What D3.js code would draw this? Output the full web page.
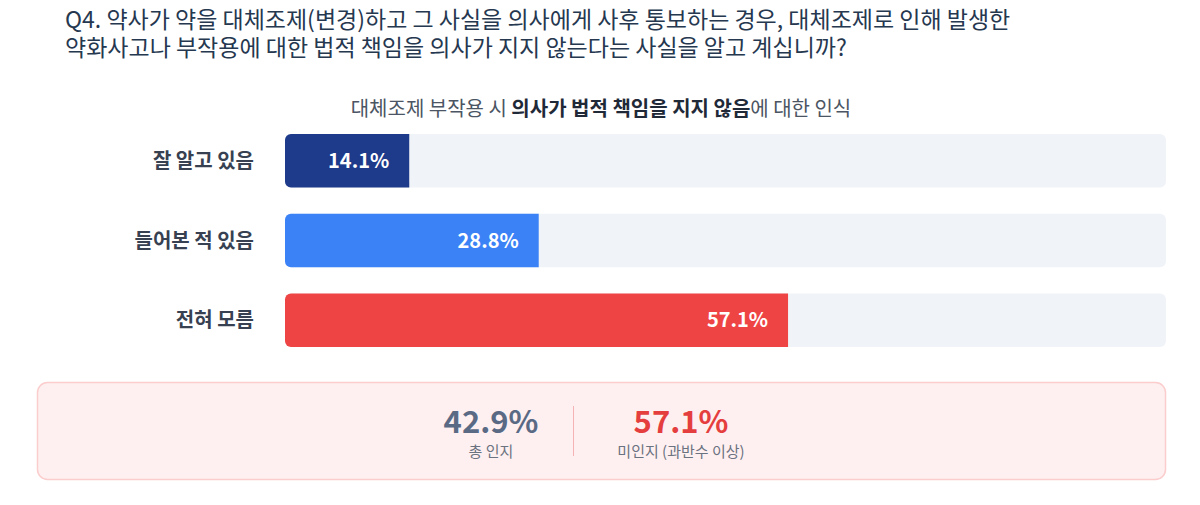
<!DOCTYPE html>
<html>
  <head>
    <meta charset="utf-8">
    <script src="https://d3js.org/d3.v7.min.js"></script>
    <style>
      body { margin: 0; background: #fff; font-family: "Noto Sans CJK KR", "Noto Sans", sans-serif; }
    </style>
  </head>
  <body>
    <script type="text/javascript">
      // 응답 데이터
      var categories = ["잘 알고 있음", "들어본 적 있음", "전혀 모름"];
      var values = [14.1, 28.8, 57.1];
      var colors = ["#1e3a8a", "#3b82f6", "#ef4444"];
      var titleLines = [
        "Q4. 약사가 약을 대체조제(변경)하고 그 사실을 의사에게 사후 통보하는 경우, 대체조제로 인해 발생한",
        "약화사고나 부작용에 대한 법적 책임을 의사가 지지 않는다는 사실을 알고 계십니까?"
      ];
      var summaryLabels = ["총 인지", "미인지 (과반수 이상)"];

      var W = 1200, H = 505;
      var svg = d3.select("body").append("svg").attr("width", W).attr("height", H);

      // 제목
      svg.selectAll("text.title")
        .data(titleLines)
        .enter()
        .append("text")
          .attr("class", "title")
          .attr("x", 65)
          .attr("y", function (d, i) { return 28 + i * 28; })
          .style("font-size", "23px")
          .style("fill", "#263850")
          .text(function (d) { return d; });

      // 부제
      var sub = svg.append("text")
        .attr("x", 601).attr("y", 116)
        .attr("text-anchor", "middle")
        .style("font-size", "20px")
        .style("fill", "#4b5563");
      sub.append("tspan").text("대체조제 부작용 시 ");
      sub.append("tspan").style("font-weight", "bold").style("fill", "#1f2937").text("의사가 법적 책임을 지지 않음");
      sub.append("tspan").text("에 대한 인식");

      var x = d3.scaleLinear().domain([0, 100]).range([285, 1166]);
      var y = d3.scaleBand().domain(categories).range([134, 347]).paddingInner(0.33);

      // 배경 트랙
      svg.selectAll("rect.track")
        .data(categories)
        .enter()
        .append("rect")
          .attr("class", "track")
          .attr("x", x(0))
          .attr("y", function (d) { return y(d); })
          .attr("width", x(100) - x(0))
          .attr("height", y.bandwidth())
          .attr("rx", 6)
          .style("fill", "#f0f3f8");

      // 막대 (왼쪽만 둥글게)
      function barPath(x0, x1, y0, h, r) {
        return "M" + (x0 + r) + "," + y0 + "H" + x1 + "V" + (y0 + h) + "H" + (x0 + r) +
          "A" + r + "," + r + " 0 0 1 " + x0 + "," + (y0 + h - r) + "V" + (y0 + r) +
          "A" + r + "," + r + " 0 0 1 " + (x0 + r) + "," + y0 + "Z";
      }
      svg.selectAll("path.bar")
        .data(values)
        .enter()
        .append("path")
          .attr("class", "bar")
          .attr("d", function (d, i) { return barPath(x(0), x(d), y(categories[i]), y.bandwidth(), 6); })
          .style("fill", function (d, i) { return colors[i]; });

      // 막대 값
      svg.selectAll("text.val")
        .data(values)
        .enter()
        .append("text")
          .attr("class", "val")
          .attr("x", function (d) { return x(d) - 20; })
          .attr("y", function (d, i) { return y(categories[i]) + y.bandwidth() / 2; })
          .attr("dy", "0.36em")
          .attr("text-anchor", "end")
          .style("font-size", "20px")
          .style("font-weight", "bold")
          .style("fill", "#fff")
          .text(function (d) { return d.toFixed(1) + "%"; });

      // 항목 이름
      svg.selectAll("text.cat")
        .data(categories)
        .enter()
        .append("text")
          .attr("class", "cat")
          .attr("x", 254)
          .attr("y", function (d) { return y(d) + y.bandwidth() / 2; })
          .attr("dy", "0.36em")
          .attr("text-anchor", "end")
          .style("font-size", "20px")
          .style("font-weight", "bold")
          .style("fill", "#374151")
          .text(function (d) { return d; });

      // 요약 박스
      svg.append("rect")
        .attr("x", 37.5).attr("y", 382.5)
        .attr("width", 1128).attr("height", 97)
        .attr("rx", 10)
        .style("fill", "#fef0f1")
        .style("stroke", "#fbcdcd")
        .style("stroke-width", 1.5);

      svg.append("line")
        .attr("x1", 573.5).attr("x2", 573.5)
        .attr("y1", 406).attr("y2", 456)
        .style("stroke", "#f5b3b3")
        .style("stroke-width", 1);

      var aware = values[0] + values[1];
      var summary = [
        { v: aware, label: summaryLabels[0], cx: 491, color: "#5a6a85" },
        { v: values[2], label: summaryLabels[1], cx: 681, color: "#e53e3e" }
      ];
      var g = svg.selectAll("g.sum")
        .data(summary)
        .enter()
        .append("g")
          .attr("class", "sum");
      g.append("text")
        .attr("x", function (d) { return d.cx; })
        .attr("y", 433)
        .attr("text-anchor", "middle")
        .style("font-size", "31px")
        .style("font-weight", "bold")
        .style("fill", function (d) { return d.color; })
        .text(function (d) { return d.v.toFixed(1) + "%"; });
      g.append("text")
        .attr("x", function (d) { return d.cx; })
        .attr("y", 457)
        .attr("text-anchor", "middle")
        .style("font-size", "15px")
        .style("fill", "#6b7280")
        .text(function (d) { return d.label; });
    </script>
  </body>
</html>
